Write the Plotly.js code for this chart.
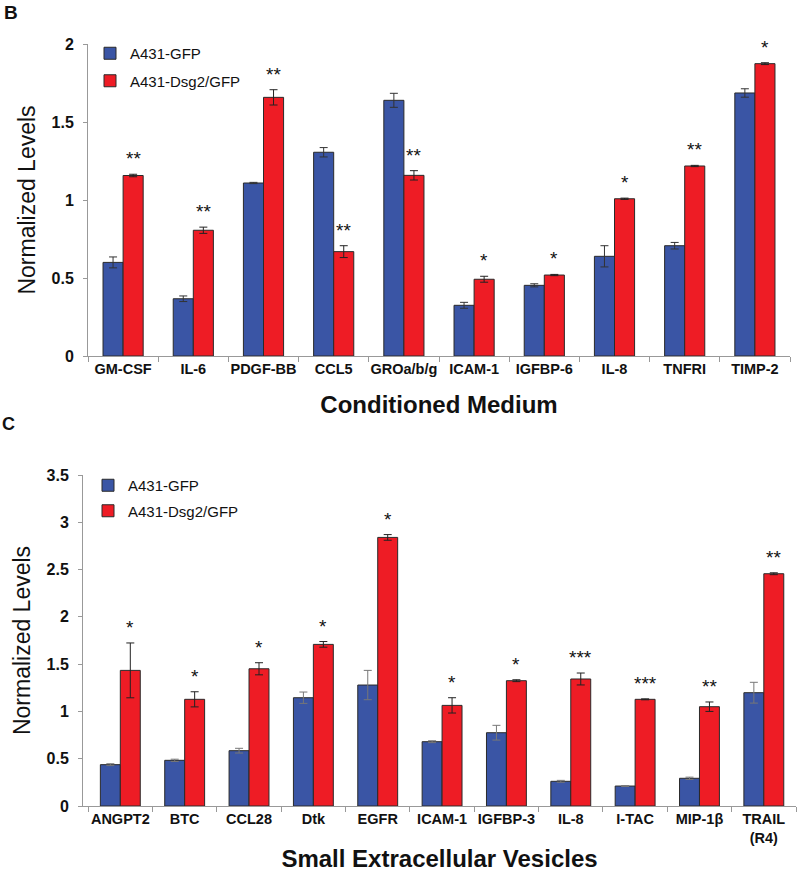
<!DOCTYPE html>
<html>
<head>
<meta charset="utf-8">
<script src="https://cdn.plot.ly/plotly-3.0.1.min.js"></script>
<style>html,body{margin:0;padding:0;background:#fff;}#chart{width:800px;height:872px;}</style>
</head>
<body>
<div id="chart"></div>
<script>
// Panel B: Conditioned Medium
var cmCategories = ['GM-CSF', 'IL-6', 'PDGF-BB', 'CCL5', 'GROa/b/g', 'ICAM-1', 'IGFBP-6', 'IL-8', 'TNFRI', 'TIMP-2'];
var cmGFP      = [0.60, 0.367, 1.109, 1.306, 1.639, 0.325, 0.453, 0.639, 0.707, 1.686];
var cmGFPErr   = [0.035, 0.018, 0.004, 0.030, 0.045, 0.019, 0.010, 0.068, 0.021, 0.027];
var cmDsg2     = [1.157, 0.806, 1.658, 0.669, 1.158, 0.492, 0.519, 1.008, 1.218, 1.874];
var cmDsg2Err  = [0.008, 0.020, 0.049, 0.038, 0.030, 0.019, 0.004, 0.004, 0.004, 0.006];
var cmStars    = ['**', '**', '**', '**', '**', '*', '*', '*', '**', '*'];

// Panel C: Small Extracellular Vesicles
var evCategories = ['ANGPT2', 'BTC', 'CCL28', 'Dtk', 'EGFR', 'ICAM-1', 'IGFBP-3', 'IL-8', 'I-TAC', 'MIP-1β', 'TRAIL<br>(R4)'];
var evGFP      = [0.437, 0.483, 0.585, 1.145, 1.279, 0.680, 0.775, 0.261, 0.211, 0.293, 1.198];
var evGFPErr   = [0.010, 0.012, 0.025, 0.060, 0.155, 0.010, 0.078, 0.010, 0.005, 0.012, 0.110];
var evDsg2     = [1.434, 1.128, 1.451, 1.709, 2.840, 1.064, 1.325, 1.343, 1.128, 1.050, 2.456];
var evDsg2Err  = [0.290, 0.080, 0.064, 0.030, 0.030, 0.081, 0.010, 0.063, 0.005, 0.050, 0.010];
var evStars    = ['*', '*', '*', '*', '*', '*', '*', '***', '***', '**', '**'];

var seriesNames = ['A431-GFP', 'A431-Dsg2/GFP'];
var BLUE = '#3a55a5', RED = '#ee1c25';
var FONT = 'Liberation Sans, Arial, Helvetica, sans-serif';

function barTrace(cats, vals, errs, name, color, xa, ya, w, off, legendName, errColor, grp) {
  return {
    type: 'bar', x: cats, y: vals, name: name,
    xaxis: xa, yaxis: ya, width: w, offset: off,
    marker: {color: color, line: {color: '#2a2a2a', width: 1}},
    error_y: {type: 'data', array: errs, visible: true, color: errColor, thickness: 1, width: 4},
    legend: legendName, showlegend: true, legendgroup: grp
  };
}

var wTop = 0.286, wBot = 0.31;
var data = [
  barTrace(cmCategories, cmGFP, cmGFPErr, seriesNames[0], BLUE, 'x', 'y', wTop, -wTop, 'legend', '#333', 'a'),
  barTrace(cmCategories, cmDsg2, cmDsg2Err, seriesNames[1], RED, 'x', 'y', wTop, 0, 'legend', '#222', 'b'),
  barTrace(evCategories, evGFP, evGFPErr, seriesNames[0], BLUE, 'x2', 'y2', wBot, -wBot, 'legend2', '#777', 'c'),
  barTrace(evCategories, evDsg2, evDsg2Err, seriesNames[1], RED, 'x2', 'y2', wBot, 0, 'legend2', '#222', 'd')
];

var annotations = [];
cmCategories.forEach(function (c, i) {
  annotations.push({x: c, y: cmDsg2[i] + cmDsg2Err[i], xref: 'x', yref: 'y', text: cmStars[i],
    showarrow: false, yanchor: 'bottom', xshift: wTop * 35, yshift: 3,
    font: {family: FONT, size: 19, color: '#111'}});
});
evCategories.forEach(function (c, i) {
  annotations.push({x: c, y: evDsg2[i] + evDsg2Err[i], xref: 'x2', yref: 'y2', text: evStars[i],
    showarrow: false, yanchor: 'bottom', xshift: wBot * 32, yshift: 3,
    font: {family: FONT, size: 19, color: '#111'}});
});
annotations.push({xref: 'paper', yref: 'paper', x: 0.003, y: 1.0, xanchor: 'left', yanchor: 'top',
  text: '<b>B</b>', showarrow: false, font: {family: FONT, size: 19, color: '#111'}});
annotations.push({xref: 'paper', yref: 'paper', x: 0.0, y: 0.528, xanchor: 'left', yanchor: 'top',
  text: '<b>C</b>', showarrow: false, font: {family: FONT, size: 18, color: '#111'}});

var tickFont = {family: FONT, size: 14.5, color: '#111', weight: 'bold'};
var yTickFont = {family: FONT, size: 16, color: '#111', weight: 'bold'};
var H = 872, W = 800;

var layout = {
  width: W, height: H,
  margin: {l: 0, r: 0, t: 0, b: 0},
  paper_bgcolor: '#fff', plot_bgcolor: '#fff',
  barmode: 'overlay',
  font: {family: FONT, color: '#111'},
  showlegend: true,
  xaxis: {
    domain: [88 / W, 790 / W], anchor: 'y', type: 'category', range: [-0.5, 9.5],
    showline: true, linecolor: '#999', linewidth: 1, ticks: 'outside', tickson: 'boundaries',
    ticklen: 5, tickcolor: '#999', tickfont: tickFont, tickangle: 0, showgrid: false, zeroline: false,
    automargin: false,
    title: {text: 'Conditioned Medium', font: {family: FONT, size: 24, color: '#111', weight: 'bold'}, standoff: 19}
  },
  yaxis: {
    domain: [1 - 356 / H, 1 - 44 / H], anchor: 'x', range: [0, 2], dtick: 0.5,
    showline: true, linecolor: '#999', linewidth: 1, ticks: 'outside', ticklen: 4, tickcolor: '#999',
    tickfont: yTickFont, showgrid: false, zeroline: false, automargin: false, ticklabelstandoff: 6,
    title: {text: 'Normalized Levels', font: {family: FONT, size: 23, color: '#111'}, standoff: 9}
  },
  xaxis2: {
    domain: [83 / W, 796 / W], anchor: 'y2', type: 'category', range: [-0.58, 10.5],
    showline: true, linecolor: '#999', linewidth: 1, ticks: 'outside', tickson: 'boundaries',
    ticklen: 5, tickcolor: '#999', tickfont: tickFont, tickangle: 0, showgrid: false, zeroline: false,
    automargin: false,
    title: {text: 'Small Extracellular Vesicles', font: {family: FONT, size: 24, color: '#111', weight: 'bold'}, standoff: 8}
  },
  yaxis2: {
    domain: [1 - 806 / H, 1 - 475 / H], anchor: 'x2', range: [0, 3.5], dtick: 0.5,
    showline: true, linecolor: '#999', linewidth: 1, ticks: 'outside', ticklen: 4, tickcolor: '#999',
    tickfont: yTickFont, showgrid: false, zeroline: false, automargin: false, ticklabelstandoff: 6,
    title: {text: 'Normalized Levels', font: {family: FONT, size: 23, color: '#111'}, standoff: 9}
  },
  legend: {x: 90 / W, y: 1 - 37 / H, xanchor: 'left', yanchor: 'top', bgcolor: 'rgba(0,0,0,0)',
    font: {family: FONT, size: 15, color: '#111'}, traceorder: 'grouped', tracegroupgap: 5},
  legend2: {x: 88 / W, y: 1 - 469 / H, xanchor: 'left', yanchor: 'top', bgcolor: 'rgba(0,0,0,0)',
    font: {family: FONT, size: 15, color: '#111'}, traceorder: 'grouped', tracegroupgap: 3},
  annotations: annotations
};

Plotly.newPlot('chart', data, layout, {staticPlot: true, displayModeBar: false});
</script>
</body>
</html>
